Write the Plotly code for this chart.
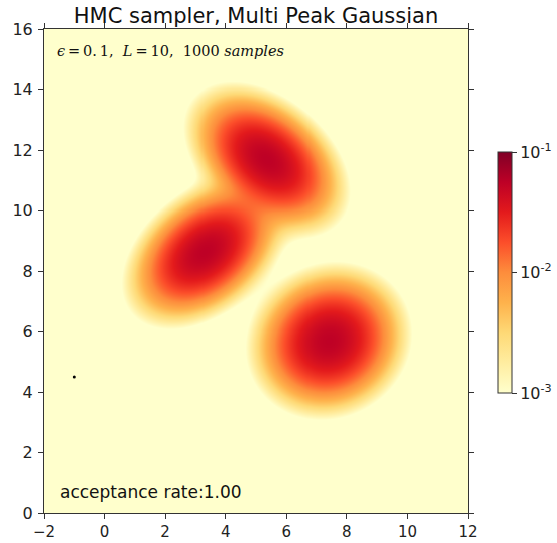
import numpy as np
import plotly.graph_objects as go

# Mixture components
means_x = [5.35, 3.30, 7.40]
means_y = [11.70, 8.65, 5.70]
sigma_major = [1.12, 1.12, 1.00]
sigma_minor = [0.72, 0.72, 0.90]
angle_deg = [-40.0, 40.0, 30.0]
weights = [0.28, 0.28, 0.31]

sample_x = [-1.0]
sample_y = [4.5]

ylorrd = ['#ffffcc', '#ffeda0', '#fed976', '#feb24c', '#fd8d3c',
          '#fc4e2a', '#e31a1c', '#bd0026', '#800026']
cbar_vals = [-3, -2, -1]
cbar_text = ['10<sup>-3</sup>', '10<sup>-2</sup>', '10<sup>-1</sup>']

xs = np.linspace(-2, 12, 421)
ys = np.linspace(0, 16, 481)
X, Y = np.meshgrid(xs, ys)
dens = np.zeros_like(X)
for mx, my, sa, sb, ang, w in zip(means_x, means_y, sigma_major, sigma_minor, angle_deg, weights):
    t = np.deg2rad(ang)
    R = np.array([[np.cos(t), -np.sin(t)], [np.sin(t), np.cos(t)]])
    S = R @ np.diag([sa**2, sb**2]) @ R.T
    Si = np.linalg.inv(S)
    dx = X - mx
    dy = Y - my
    q = Si[0, 0]*dx*dx + 2*Si[0, 1]*dx*dy + Si[1, 1]*dy*dy
    dens += w * np.exp(-0.5*q) / (2*np.pi*np.sqrt(np.linalg.det(S)))
Z = np.log10(np.clip(dens, 1e-3, 1e-1))

cs = [[i/(len(ylorrd)-1), c] for i, c in enumerate(ylorrd)]

fig = go.Figure()
fig.add_trace(go.Heatmap(
    x=xs, y=ys, z=Z, zmin=-3, zmax=-1, colorscale=cs, zsmooth='best',
    hoverinfo='skip',
    colorbar=dict(
        x=(498-44)/424, xanchor='left', xpad=0, y=(513-272.5)/484, yanchor='middle', ypad=0,
        lenmode='pixels', len=241, thickness=14, thicknessmode='pixels',
        outlinewidth=1, outlinecolor='#333333',
        tickvals=cbar_vals, ticktext=cbar_text, ticks='outside', ticklen=5,
        tickcolor='#333333',
        tickfont=dict(family='DejaVu Sans', size=16, color='#222222'),
    ),
))
fig.add_trace(go.Scatter(x=sample_x, y=sample_y, mode='markers',
                         marker=dict(color='black', size=3), showlegend=False))

axis_common = dict(showgrid=False, zeroline=False, showline=True, mirror='ticks',
                   linecolor='#333333', linewidth=1, ticks='outside', ticklen=5,
                   tickcolor='#333333', dtick=2)
fig.update_xaxes(range=[-2, 12], tick0=-2, ticklabelstandoff=0,
                 tickfont=dict(family='DejaVu Sans', size=15, color='#222222'), **axis_common)
fig.update_yaxes(range=[0, 16], tick0=0, ticklabelstandoff=2,
                 tickfont=dict(family='DejaVu Sans', size=16, color='#222222'), **axis_common)

fig.add_annotation(x=0.025, y=0.975, xref='paper', yref='paper', xanchor='left', yanchor='top',
                   showarrow=False,
                   text='<i>ϵ</i>\u2009=\u20090.\u20091,  <i>L</i>\u2009=\u200910,  1000 <i>samples</i>',
                   font=dict(family='DejaVu Serif', size=14.5, color='#111111'))
fig.add_annotation(x=0.032, y=0.018, xref='paper', yref='paper', xanchor='left', yanchor='bottom',
                   showarrow=False, text='acceptance rate:1.00',
                   font=dict(family='DejaVu Sans', size=17, color='#111111'))

fig.update_layout(
    width=557, height=543,
    margin=dict(l=44, r=89, t=29, b=30, autoexpand=False),
    paper_bgcolor='white', plot_bgcolor='#ffffcc',
    showlegend=False,
    title=dict(text='HMC sampler, Multi Peak Gaussian', x=256/557, xanchor='center',
               y=1 - 16/543, yanchor='middle',
               font=dict(family='DejaVu Sans', size=21, color='#111111')),
)
fig.write_html('out.html')
